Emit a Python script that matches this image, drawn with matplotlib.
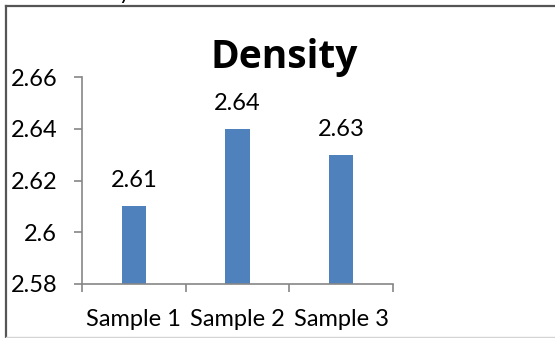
import matplotlib.pyplot as plt
from matplotlib.lines import Line2D

samples = ["Sample 1", "Sample 2", "Sample 3"]
density = [2.61, 2.64, 2.63]
yticks = [2.58, 2.6, 2.62, 2.64, 2.66]
ytick_labels = ["2.58", "2.6", "2.62", "2.64", "2.66"]

W, H = 555, 338
plt.rcParams['font.family'] = ['Lato', 'DejaVu Sans']

fig = plt.figure(figsize=(W / 100, H / 100), dpi=100)
ax = fig.add_axes([82 / W, 1 - 284 / H, (393 - 82) / W, (284 - 77) / H])

x = list(range(len(samples)))
ax.bar(x, density, width=0.236, color="#4F81BD", bottom=0)
ax.set_xlim(-0.5, 2.5)
ax.set_ylim(2.58, 2.66)

ax.set_yticks(yticks)
ax.set_yticklabels(ytick_labels)
ax.set_xticks(x)
ax.set_xticklabels(samples)
ax.set_xticks([-0.5, 0.5, 1.5, 2.5], minor=True)

grey = "#868686"
for s in ["top", "right"]:
    ax.spines[s].set_visible(False)
for s in ["left", "bottom"]:
    ax.spines[s].set_color(grey)
    ax.spines[s].set_linewidth(1.2)

ax.tick_params(axis="y", length=5.8, width=1.2, color=grey, pad=12, labelsize=17)
ax.tick_params(axis="x", which="major", length=0, pad=18, labelsize=17)
ax.tick_params(axis="x", which="minor", length=5.8, width=1.2, color=grey)

for xi, v in zip(x, density):
    ax.annotate("%.2f" % v, (xi, v), xytext=(0, 13.7), textcoords="offset points",
                ha="center", va="baseline", fontsize=17)

fig.text(284 / W, 1 - 68 / H, "Density", ha="center", va="baseline",
         fontsize=28, fontweight="bold", family=["Open Sans", "DejaVu Sans"])

# fragment of text from the page above
fig.text(119 / W, 1 + 1 / H, "y", ha="left", va="baseline", fontsize=16)

# chart frame
fig.add_artist(Line2D([6 / W, 1], [1 - 6 / H, 1 - 6 / H], color="#555555", lw=1.6))
fig.add_artist(Line2D([6 / W, 6 / W], [1 - 6 / H, 1 - 337 / H], color="#555555", lw=1.6))
fig.add_artist(Line2D([6 / W, 1], [1 - 336.5 / H, 1 - 336.5 / H], color="#d4d4d4", lw=1))

fig.savefig("out.png", dpi=100)
